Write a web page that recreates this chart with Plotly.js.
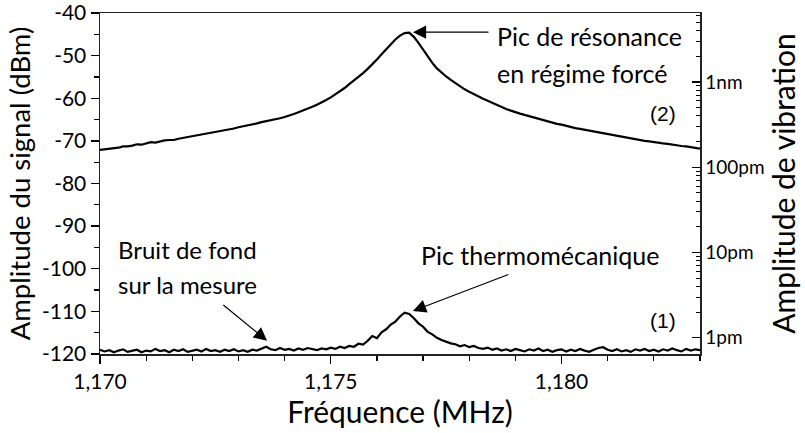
<!DOCTYPE html>
<html>
<head>
<meta charset="utf-8">
<script src="https://cdn.plot.ly/plotly-3.0.1.min.js"></script>
<style>html,body{margin:0;padding:0;background:#fff;}#chart{width:805px;height:433px;}</style>
</head>
<body>
<div id="chart"></div>
<script>
// Frequency grid (MHz): first sample and step of the analyser sweep
const freqStart = 1.1700;
const freqStep = 0.0001;

// (2) Resonance peak under forced excitation (dBm)
const forcedSignal = [
 -72.1,-72.0,-71.8,-71.8,-71.6,-71.3,-71.3,-71.1,-70.8,-70.9,
 -70.6,-70.3,-70.4,-70.1,-69.9,-69.8,-69.8,-69.5,-69.3,-69.2,
 -68.9,-68.7,-68.6,-68.3,-68.1,-67.9,-67.8,-67.5,-67.3,-67.1,
 -66.8,-66.6,-66.4,-66.2,-65.9,-65.6,-65.4,-65.1,-64.9,-64.7,
 -64.4,-64.1,-63.7,-63.3,-62.9,-62.5,-62.0,-61.5,-61.0,-60.4,
 -59.8,-59.1,-58.4,-57.6,-56.7,-55.9,-55.0,-54.1,-53.1,-52.1,
 -50.9,-49.7,-48.5,-47.3,-46.2,-45.3,-44.7,-44.6,-45.6,-47.0,
 -48.6,-50.3,-51.7,-53.0,-54.0,-54.9,-55.7,-56.5,-57.3,-57.9,
 -58.5,-59.1,-59.6,-60.1,-60.6,-61.1,-61.6,-62.1,-62.5,-62.9,
 -63.3,-63.6,-63.9,-64.2,-64.5,-64.9,-65.2,-65.5,-65.7,-66.0,
 -66.2,-66.5,-66.7,-67.0,-67.2,-67.4,-67.7,-67.9,-68.1,-68.3,
 -68.5,-68.7,-68.9,-69.1,-69.3,-69.5,-69.7,-69.8,-70.0,-70.1,
 -70.3,-70.4,-70.6,-70.7,-70.9,-71.0,-71.2,-71.3,-71.5,-71.6,
 -71.8
];

// (1) Thermomechanical peak over the measurement noise floor (dBm)
const thermalSignal = [
 -119.0,-119.4,-119.1,-119.6,-119.2,-118.9,-119.5,-119.3,-119.0,-119.6,
 -119.2,-119.4,-118.8,-119.3,-119.1,-119.6,-119.0,-119.3,-118.9,-119.5,
 -119.2,-119.0,-119.4,-118.8,-119.3,-119.1,-119.5,-119.0,-119.3,-118.9,
 -119.4,-119.1,-119.5,-119.0,-119.2,-118.8,-118.3,-118.9,-119.1,-118.6,
 -119.0,-118.8,-119.2,-118.7,-119.0,-118.6,-118.9,-119.1,-118.7,-118.9,
 -118.5,-118.8,-118.3,-118.6,-118.1,-118.3,-117.6,-117.8,-116.9,-115.8,
 -116.3,-114.9,-114.2,-113.1,-112.4,-111.2,-110.3,-110.6,-111.6,-112.8,
 -113.6,-114.8,-115.4,-116.2,-116.7,-117.1,-117.5,-117.7,-118.2,-117.9,
 -118.4,-118.1,-118.6,-118.8,-118.5,-119.0,-118.7,-119.2,-118.9,-119.3,
 -118.8,-119.1,-119.4,-118.9,-119.2,-118.7,-119.3,-119.0,-119.5,-119.1,
 -118.9,-119.4,-119.0,-119.3,-118.8,-119.2,-119.5,-119.0,-118.6,-118.4,
 -119.0,-119.3,-118.9,-119.4,-119.1,-119.5,-118.9,-119.2,-118.8,-119.3,
 -119.0,-119.4,-118.9,-119.2,-118.7,-119.1,-119.4,-118.8,-119.2,-118.9,
 -119.1
];

// Axis ticks
const xTickVals = [1.170, 1.175, 1.180];
const xTickText = ['1,170', '1,175', '1,180'];
const yTickVals = [-120, -110, -100, -90, -80, -70, -60, -50, -40];
const yTickText = ['-120', '-110', '-100', '-90', '-80', '-70', '-60', '-50', '-40'];
// Right axis: vibration amplitude in pm (1 pm ~ -116.2 dBm, 20 dB per decade)
const ampTickVals = [1, 10, 100, 1000];
const ampTickText = ['1pm', '10pm', '100pm', '1nm'];
const ampMinorVals = [2,3,4,5,6,7,8,9,20,30,40,50,60,70,80,90,200,300,400,500,600,700,800,900,2000,3000,4000,5000,6000];
const ampRangeLog = [-0.19, 3.81];

const freq = forcedSignal.map((_, i) => +(freqStart + i * freqStep).toFixed(5));

const FONT = 'Lato, "Open Sans", sans-serif';
const ARIAL = '"Liberation Sans", Arial, sans-serif';

const traces = [
  {x: freq, y: forcedSignal, type: 'scatter', mode: 'lines',
   line: {color: '#000', width: 2.2}, hoverinfo: 'skip', showlegend: false},
  {x: freq, y: thermalSignal, type: 'scatter', mode: 'lines',
   line: {color: '#000', width: 2.2}, hoverinfo: 'skip', showlegend: false},
  {x: [freqStart], y: [null], yaxis: 'y2', type: 'scatter', mode: 'lines',
   hoverinfo: 'skip', showlegend: false}
];

const layout = {
  width: 805, height: 433,
  margin: {l: 100, r: 105, t: 13, b: 79},
  paper_bgcolor: '#fff', plot_bgcolor: '#fff',
  font: {family: FONT, color: '#000'},
  showlegend: false,
  xaxis: {
    range: [1.170, 1.183],
    tickmode: 'array', tickvals: xTickVals, ticktext: xTickText,
    ticks: 'outside', ticklen: 8, tickwidth: 1.3, tickcolor: '#000',
    minor: {tickmode: 'linear', tick0: 1.170, dtick: 0.001, ticks: 'outside', ticklen: 5, tickwidth: 1.2, tickcolor: '#000'},
    showline: true, linecolor: '#222', linewidth: 1.5, mirror: true,
    showgrid: false, zeroline: false, ticklabeloverflow: 'allow',
    tickfont: {family: FONT, size: 21, color: '#000'},
    title: {text: 'Fréquence (MHz)', font: {family: FONT, size: 30, color: '#000'}, standoff: 6}
  },
  yaxis: {
    range: [-120, -40],
    tickmode: 'array', tickvals: yTickVals, ticktext: yTickText,
    ticks: 'outside', ticklen: 8, tickwidth: 1.3, tickcolor: '#000',
    minor: {tickmode: 'linear', tick0: -115, dtick: 10, ticks: 'outside', ticklen: 5, tickwidth: 1.2, tickcolor: '#000'},
    showline: true, linecolor: '#222', linewidth: 1.5,
    showgrid: false, zeroline: false, ticklabeloverflow: 'allow',
    tickfont: {family: FONT, size: 21, color: '#000'},
    title: {text: 'Amplitude du signal (dBm)', font: {family: FONT, size: 27.5, color: '#000'}, standoff: 3}
  },
  yaxis2: {
    overlaying: 'y', side: 'right', type: 'log',
    range: ampRangeLog,
    tickmode: 'array', tickvals: ampTickVals, ticktext: ampTickText,
    ticks: 'inside', ticklen: 8, tickwidth: 1.2, tickcolor: '#000',
    minor: {tickmode: 'array', tickvals: ampMinorVals, ticks: 'inside', ticklen: 4, tickwidth: 1, tickcolor: '#000'},
    showline: true, linecolor: '#222', linewidth: 1.5,
    showgrid: false, zeroline: false, ticklabeloverflow: 'allow',
    tickfont: {family: FONT, size: 19, color: '#000'},
    title: {text: 'Amplitude de vibration', font: {family: FONT, size: 30, color: '#000'}, standoff: 6}
  },
  annotations: [
    {x: 1.17678, y: -44.5, ax: 1.17845, ay: -44.5, axref: 'x', ayref: 'y', xref: 'x', yref: 'y',
     text: '', showarrow: true, arrowhead: 2, arrowsize: 2.2, arrowwidth: 1.2, arrowcolor: '#000'},
    {x: 1.17855, y: -45.4, xref: 'x', yref: 'y', xanchor: 'left', yanchor: 'middle', showarrow: false,
     text: 'Pic de résonance', font: {family: FONT, size: 25, color: '#000'}},
    {x: 1.17855, y: -54.1, xref: 'x', yref: 'y', xanchor: 'left', yanchor: 'middle', showarrow: false,
     text: 'en régime forcé', font: {family: FONT, size: 25, color: '#000'}},
    {x: 1.18220, y: -63.5, xref: 'x', yref: 'y', xanchor: 'center', yanchor: 'middle', showarrow: false,
     text: '(2)', font: {family: ARIAL, size: 21, color: '#000'}},
    {x: 1.18220, y: -112.2, xref: 'x', yref: 'y', xanchor: 'center', yanchor: 'middle', showarrow: false,
     text: '(1)', font: {family: ARIAL, size: 21, color: '#000'}},
    {x: 1.17035, y: -95.5, xref: 'x', yref: 'y', xanchor: 'left', yanchor: 'middle', showarrow: false,
     text: 'Bruit de fond', font: {family: FONT, size: 24, color: '#000'}},
    {x: 1.17035, y: -103.8, xref: 'x', yref: 'y', xanchor: 'left', yanchor: 'middle', showarrow: false,
     text: 'sur la mesure', font: {family: FONT, size: 24, color: '#000'}},
    {x: 1.17362, y: -116.9, ax: 1.17264, ay: -108.2, axref: 'x', ayref: 'y', xref: 'x', yref: 'y',
     text: '', showarrow: true, arrowhead: 2, arrowsize: 2.2, arrowwidth: 1.2, arrowcolor: '#000'},
    {x: 1.17953, y: -96.7, xref: 'x', yref: 'y', xanchor: 'center', yanchor: 'middle', showarrow: false,
     text: 'Pic thermomécanique', font: {family: FONT, size: 25, color: '#000'}},
    {x: 1.17678, y: -109.9, ax: 1.17888, ay: -101.2, axref: 'x', ayref: 'y', xref: 'x', yref: 'y',
     text: '', showarrow: true, arrowhead: 2, arrowsize: 2.2, arrowwidth: 1.2, arrowcolor: '#000'}
  ]
};

Plotly.newPlot('chart', traces, layout, {staticPlot: true, displayModeBar: false});
</script>
</body>
</html>
